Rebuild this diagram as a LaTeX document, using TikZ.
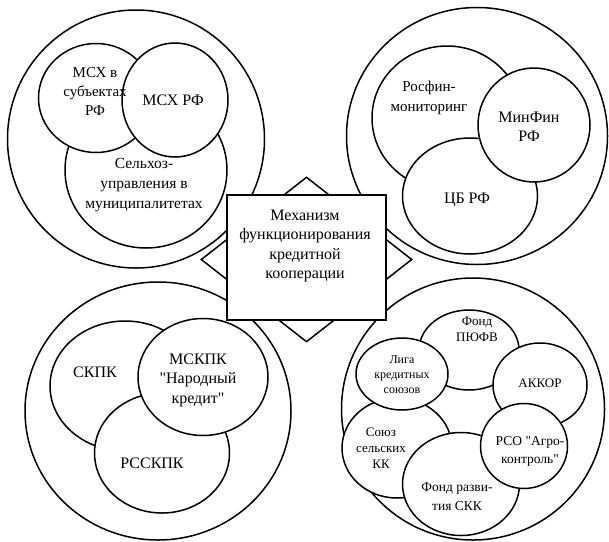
\documentclass[tikz,border=0pt]{standalone}
\usepackage{fontspec}
\setmainfont{Liberation Serif}[Ligatures=TeXOff]
\usetikzlibrary{shapes.geometric}

\begin{document}
\begin{tikzpicture}[x=1pt,y=-1pt,
    ring/.style={ellipse,draw,line width=1.5pt,inner sep=0pt},
    orb/.style={ellipse,draw,fill=white,line width=1.5pt,inner sep=0pt},
    lbl/.style={align=center,inner sep=0pt,font=\fontsize{16}{19.5}\selectfont},
    small/.style={align=center,inner sep=0pt,font=\fontsize{13}{16}\selectfont}]
  \useasboundingbox (0,0) rectangle (609,541);
  % outer rings
  \node[ring,minimum width=257,minimum height=258] (minsel) at (136,139) {};
  \node[ring,minimum width=261,minimum height=257] (minfinring) at (477,136) {};
  \node[ring,minimum width=266,minimum height=258] (kpkring) at (158,411) {};
  \node[ring,minimum width=263,minimum height=262] (unionring) at (473,409) {};
  % top left
  \node[orb,minimum width=162,minimum height=156] (selkhoz) at (146,170) {};
  \node[orb,minimum width=115,minimum height=109] (mcxsub) at (96,98) {};
  \node[orb,minimum width=106,minimum height=114] (mcxrf) at (175,100) {};
  % top right
  \node[orb,minimum width=150,minimum height=144] (rosfin) at (447,118) {};
  \node[orb,minimum width=135,minimum height=116] (cbrf) at (470,196) {};
  \node[orb,minimum width=112,minimum height=114] (minfin) at (534,125) {};
  % bottom left
  \node[orb,minimum width=150,minimum height=130] (skpk) at (125,386) {};
  \node[orb,minimum width=135,minimum height=120] (rsskpk) at (162,453) {};
  \node[orb,minimum width=130,minimum height=117] (mskpk) at (203,377) {};
  % bottom right
  \node[orb,minimum width=100,minimum height=80] (fondpufv) at (469,350) {};
  \node[orb,minimum width=94,minimum height=84] (akkor) at (540,385) {};
  \node[orb,minimum width=110,minimum height=100] (soyuz) at (397,448) {};
  \node[orb,minimum width=117,minimum height=103] (fondrazv) at (461,484) {};
  \node[orb,minimum width=92,minimum height=72] (liga) at (402,374) {};
  \node[orb,minimum width=87,minimum height=85] (rso) at (524,446) {};
  % centre
  \node[diamond,draw,line width=1.5pt,minimum width=211,minimum height=165,inner sep=0pt] (rhomb) at (306.5,259.5) {};
  \node[draw,fill=white,line width=1.5pt,minimum width=159,minimum height=125,inner sep=0pt] (mech) at (306.5,257.5) {};
  % labels
  \node[lbl] (mechT) at (305,246) {Механизм\\функционирования\\кредитной\\кооперации};
  \node[lbl,font=\fontsize{15}{19}\selectfont] (mcxsubT) at (95,92) {МСХ в\\субъектах\\РФ};
  \node[lbl] (mcxrfT) at (173,100) {МСХ РФ};
  \node[lbl,font=\fontsize{15.5}{20}\selectfont] (selkhozT) at (144,185) {Сельхоз-\\управления в\\муниципалитетах};
  \node[lbl,font=\fontsize{15}{20}\selectfont] (rosfinT) at (429,98) {Росфин-\\мониторинг};
  \node[lbl] (minfinT) at (529,127) {МинФин\\РФ};
  \node[lbl] (cbrfT) at (467,200) {ЦБ РФ};
  \node[lbl] (skpkT) at (95,372) {СКПК};
  \node[lbl] (mskpkT) at (198,380) {МСКПК\\"Народный\\кредит"};
  \node[lbl] (rsskpkT) at (152,463) {РССКПК};
  \node[small] (fondpufvT) at (477,329) {Фонд\\ПЮФВ};
  \node[small,font=\fontsize{12}{15}\selectfont] (ligaT) at (402,375) {Лига\\кредитных\\союзов};
  \node[small] (akkorT) at (540,383) {АККОР};
  \node[small] (soyuzT) at (381,448) {Союз\\сельских\\КК};
  \node[small,font=\fontsize{13.5}{18}\selectfont] (rsoT) at (530,451) {РСО "Агро-\\контроль"};
  \node[small,font=\fontsize{13.5}{19}\selectfont] (fondrazvT) at (457,497) {Фонд разви-\\тия СКК};
\end{tikzpicture}
\end{document}
